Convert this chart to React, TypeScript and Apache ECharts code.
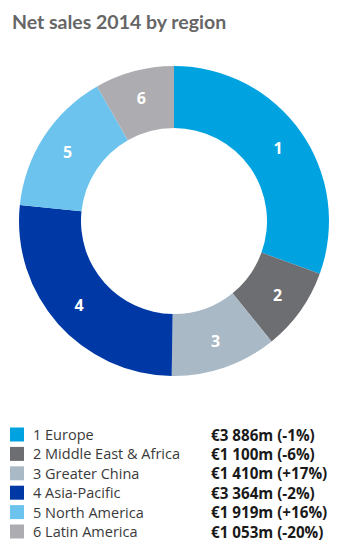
import React, { useEffect, useRef } from "react";
import * as echarts from "echarts";

const regions = ["Europe", "Middle East & Africa", "Greater China", "Asia-Pacific", "North America", "Latin America"];
const sales = [3886, 1100, 1410, 3364, 1919, 1053];
const valueLabels = ["€3 886m (-1%)", "€1 100m (-6%)", "€1 410m (+17%)", "€3 364m (-2%)", "€1 919m (+16%)", "€1 053m (-20%)"];
const colors = ["#00a3e0", "#6d6e71", "#a9b9c6", "#0039a6", "#6cc4ee", "#adadb1"];

export default function App() {
  const ref = useRef<HTMLDivElement>(null);
  useEffect(() => {
    document.body.style.margin = "0";
    const chart = echarts.init(ref.current!, null, { renderer: "svg" });
    const data = regions.map((r, i) => ({
      name: `${i + 1} ${r}`,
      value: sales[i],
      itemStyle: { color: colors[i] },
    }));
    const valueByName: Record<string, string> = {};
    data.forEach((d, i) => (valueByName[d.name] = valueLabels[i]));
    chart.setOption({
      animation: false,
      backgroundColor: "#ffffff",
      title: {
        text: "Net sales 2014 by region",
        left: 7,
        top: 6,
        textStyle: { fontFamily: "Lato", fontWeight: "bold", fontSize: 19.5, color: "#666666" },
      },
      legend: {
        orient: "vertical",
        left: 5,
        top: 422,
        height: 130,
        itemWidth: 14,
        itemHeight: 14,
        itemGap: 4.4,
        icon: "rect",
        selectedMode: false,
        data: data.map((d) => d.name),
        formatter: (name: string) => `{n|${name}}{v|${valueByName[name]}}`,
        textStyle: {
          rich: {
            n: { width: 178, fontFamily: "Open Sans", fontSize: 14.5, color: "#3a3a3a", lineHeight: 14, padding: [0, 0, 0, 4] },
            v: { fontFamily: "Open Sans", fontSize: 15.2, fontWeight: "bold", color: "#1a1a1a", lineHeight: 14 },
          },
        },
      },
      series: [
        {
          type: "pie",
          center: [174, 221],
          radius: [93, 155],
          startAngle: 90,
          clockwise: true,
          data,
          label: {
            show: true,
            position: "inside",
            formatter: (p: any) => `${p.dataIndex + 1}`,
            color: "#ffffff",
            fontFamily: "Open Sans",
            fontWeight: "bold",
            fontSize: 16,
          },
          labelLine: { show: false },
          emphasis: { disabled: true },
          itemStyle: { borderWidth: 0 },
        },
      ],
    });
    return () => chart.dispose();
  }, []);
  return <div ref={ref} style={{ width: 354, height: 544 }} />;
}
